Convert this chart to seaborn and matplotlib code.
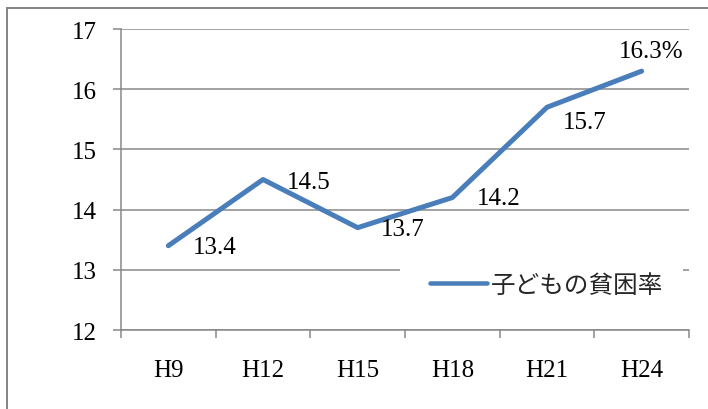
import numpy as np
import pandas as pd
import matplotlib
matplotlib.use("Agg")
import matplotlib.pyplot as plt
from matplotlib.patches import Rectangle
from matplotlib.ticker import FixedLocator, NullFormatter, FixedFormatter
import seaborn as sns

# --- data ---------------------------------------------------------------
categories = ["H9", "H12", "H15", "H18", "H21", "H24"]
poverty_rate = [13.4, 14.5, 13.7, 14.2, 15.7, 16.3]
series_name = "子どもの貧困率"
y_ticks = [12, 13, 14, 15, 16, 17]

# label placement relative to each point (points: dx, dy)
label_offsets = [(18, -0.7), (17, -1.7), (17, -1.0), (18, -0.5), (11.5, -10.5), (-16.5, 14.4)]

df = pd.DataFrame({"pos": np.arange(len(categories)), "rate": poverty_rate})

sns.set_style("white")
plt.rcParams["font.family"] = ["Liberation Serif", "DejaVu Serif"]

GRID = "#868686"
BLUE = "#4A7EBB"
PX = 0.72  # points per pixel at dpi 100

fig = plt.figure(figsize=(7.08, 4.10), dpi=100)
ax = fig.add_axes([121 / 708, 79 / 410, 568 / 708, 301 / 410])

sns.lineplot(data=df, x="pos", y="rate", ax=ax, color=BLUE,
             linewidth=5 * PX, label=series_name, legend=False, zorder=3)

ax.set_xlim(-0.5, len(categories) - 0.5)
ax.set_ylim(y_ticks[0], y_ticks[-1])
ax.set_xlabel("")
ax.set_ylabel("")

# y axis: gridlines with small outward ticks
ax.set_yticks(y_ticks)
ax.set_yticklabels([str(t) for t in y_ticks])
ax.yaxis.grid(True, color=GRID, linewidth=1.5 * PX)
ax.set_axisbelow(True)
ax.tick_params(axis="y", which="major", direction="out", length=8 * PX,
               width=1.5 * PX, color=GRID, pad=11.5, labelsize=18,
               labelcolor="black", left=True)

# x axis: ticks on category boundaries, labels centred on categories
ax.xaxis.set_major_locator(FixedLocator(np.arange(-0.5, len(categories), 1.0)))
ax.xaxis.set_major_formatter(NullFormatter())
ax.xaxis.set_minor_locator(FixedLocator(np.arange(len(categories))))
ax.xaxis.set_minor_formatter(FixedFormatter(categories))
ax.tick_params(axis="x", which="major", direction="out", length=8 * PX,
               width=1.5 * PX, color=GRID, bottom=True)
ax.tick_params(axis="x", which="minor", length=0, pad=21, labelsize=18,
               labelcolor="black", bottom=True)

for side in ["top", "right"]:
    ax.spines[side].set_visible(False)
for side in ["left", "bottom"]:
    ax.spines[side].set_color(GRID)
    ax.spines[side].set_linewidth(1.5 * PX)

# value labels
for i, (v, (dx, dy)) in enumerate(zip(poverty_rate, label_offsets)):
    txt = f"{v:.1f}" + ("%" if i == len(poverty_rate) - 1 else "")
    ax.annotate(txt, xy=(i, v), xytext=(dx, dy), textcoords="offset points",
                ha="left", va="center", fontsize=18, color="black", zorder=4)

# legend on a white patch inside the plot area
ax.add_patch(Rectangle(((400 - 121) / 568, (331 - 305) / 301), 283 / 568, 40 / 301,
                       transform=ax.transAxes, facecolor="white",
                       edgecolor="none", zorder=1))
leg = ax.legend(handles=ax.get_lines()[:1], labels=[series_name],
                loc="center left", bbox_to_anchor=((430 - 121) / 568, (331 - 286) / 301),
                frameon=False, borderpad=0, borderaxespad=0,
                handlelength=2.32, handletextpad=0.16,
                prop={"family": ["Noto Sans CJK JP"], "size": 17.7})
for h in leg.get_lines():
    h.set_solid_capstyle("round")
    h.set_linewidth(4.5 * PX)

# outer chart frame
fig.add_artist(Rectangle((7 / 708, -0.1), 1.2, (410 - 9) / 410 + 0.1,
                         transform=fig.transFigure, facecolor="none",
                         edgecolor=GRID, linewidth=2 * PX, clip_on=False))

fig.savefig("out.png", dpi=100)
